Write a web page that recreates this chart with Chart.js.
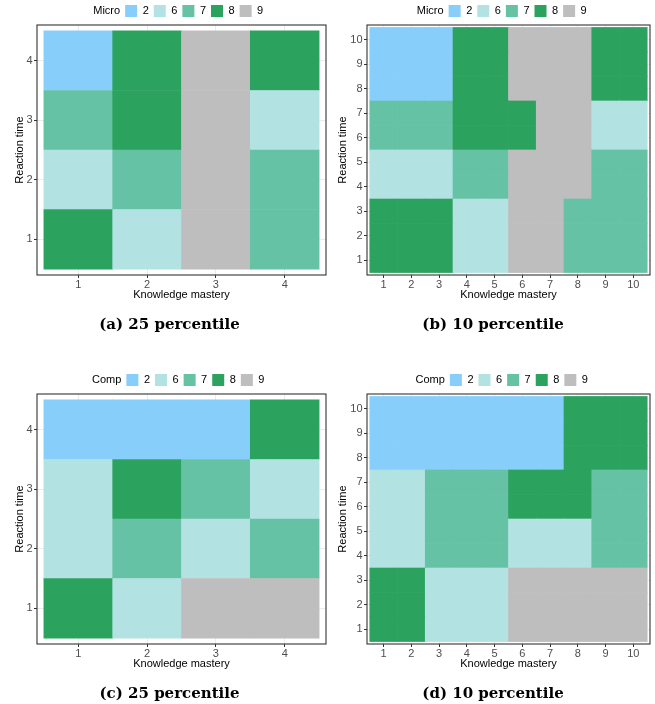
<!DOCTYPE html>
<html><head><meta charset="utf-8">
<script src="https://cdn.jsdelivr.net/npm/chart.js@4.4.1/dist/chart.umd.min.js"></script>
<style>
html,body{margin:0;padding:0;background:#fff;width:655px;height:704px;overflow:hidden;position:relative}
canvas{position:absolute}
</style></head><body>
<canvas id="ca" width="328" height="347" style="left:0px;top:0px"></canvas>
<canvas id="cb" width="327" height="347" style="left:328px;top:0px"></canvas>
<canvas id="cc" width="328" height="347" style="left:0px;top:369px"></canvas>
<canvas id="cd" width="327" height="347" style="left:328px;top:369px"></canvas>
<script>
// ---- data ----
const legendValues = [2, 6, 7, 8, 9];
const ticks4 = [1, 2, 3, 4];
const ticks10 = [1, 2, 3, 4, 5, 6, 7, 8, 9, 10];

// rows listed from Reaction time = 1 (bottom) upward; columns = Knowledge mastery 1..N
const microQ25 = [
  [8, 6, 9, 7],
  [6, 7, 9, 7],
  [7, 8, 9, 6],
  [2, 8, 9, 8]
];
const microQ10 = [
  [8, 8, 8, 6, 6, 9, 9, 7, 7, 7],
  [8, 8, 8, 6, 6, 9, 9, 7, 7, 7],
  [8, 8, 8, 6, 6, 9, 9, 7, 7, 7],
  [6, 6, 6, 7, 7, 9, 9, 9, 7, 7],
  [6, 6, 6, 7, 7, 9, 9, 9, 7, 7],
  [7, 7, 7, 8, 8, 8, 9, 9, 6, 6],
  [7, 7, 7, 8, 8, 8, 9, 9, 6, 6],
  [2, 2, 2, 8, 8, 9, 9, 9, 8, 8],
  [2, 2, 2, 8, 8, 9, 9, 9, 8, 8],
  [2, 2, 2, 8, 8, 9, 9, 9, 8, 8]
];
const compQ25 = [
  [8, 6, 9, 9],
  [6, 7, 6, 7],
  [6, 8, 7, 6],
  [2, 2, 2, 8]
];
const compQ10 = [
  [8, 8, 6, 6, 6, 9, 9, 9, 9, 9],
  [8, 8, 6, 6, 6, 9, 9, 9, 9, 9],
  [8, 8, 6, 6, 6, 9, 9, 9, 9, 9],
  [6, 6, 7, 7, 7, 6, 6, 6, 7, 7],
  [6, 6, 7, 7, 7, 6, 6, 6, 7, 7],
  [6, 6, 7, 7, 7, 8, 8, 8, 7, 7],
  [6, 6, 7, 7, 7, 8, 8, 8, 7, 7],
  [2, 2, 2, 2, 2, 2, 2, 8, 8, 8],
  [2, 2, 2, 2, 2, 2, 2, 8, 8, 8],
  [2, 2, 2, 2, 2, 2, 2, 8, 8, 8]
];

// ---- style ----
const colorOf = {2: '#87CEFA', 6: '#B3E2E3', 7: '#66C2A5', 8: '#2CA25F', 9: '#BEBEBE'};
const SANS = "'Liberation Sans', Arial, sans-serif";

const panelBorder = {
  id: 'panelBorder',
  afterDatasetsDraw(chart) {
    const {ctx, chartArea: a} = chart;
    ctx.save();
    ctx.strokeStyle = '#333333';
    ctx.lineWidth = 1.1;
    ctx.strokeRect(a.left, a.top, a.right - a.left, a.bottom - a.top);
    ctx.restore();
  }
};

function makeChart(canvasId, grid, ticks, legendTitle, caption, lay) {
  const n = ticks.length;
  const datasets = grid.map((row, r) => ({
    data: row.map((v, c) => ({x: ticks[c], y: [ticks[r] - 0.5, ticks[r] + 0.5]})),
    backgroundColor: row.map(v => colorOf[v]),
    borderWidth: 0,
    grouped: false,
    barPercentage: 1,
    categoryPercentage: 1
  }));
  const axisCommon = (title, isX) => ({
    type: 'linear',
    min: ticks[0] - 0.6,
    max: ticks[n - 1] + 0.6,
    offset: false,
    afterBuildTicks: s => { s.ticks = ticks.map(v => ({value: v})); },
    afterFit: s => { if (isX) s.height = lay.xAxisH; else s.width = lay.yAxisW; },
    grid: {color: '#EBEBEB', lineWidth: 1, tickColor: '#333333', tickLength: 3, offset: false, drawTicks: true},
    border: {display: false},
    ticks: {color: '#4D4D4D', font: {family: SANS, size: 11}, padding: isX ? 0 : 1.5, maxRotation: 0, autoSkip: false},
    title: {display: true, text: title, color: '#000000', font: {family: SANS, size: 11}, padding: 0}
  });
  return new Chart(document.getElementById(canvasId), {
    type: 'bar',
    data: {datasets},
    plugins: [panelBorder],
    options: {
      responsive: false,
      animation: false,
      devicePixelRatio: 1,
      layout: {padding: {left: lay.padL, right: lay.padR, top: 0, bottom: 0}},
      scales: {
        x: axisCommon('Knowledge mastery', true),
        y: axisCommon('Reaction time', false)
      },
      plugins: {
        tooltip: {enabled: false},
        legend: {
          display: true,
          position: 'top',
          maxHeight: 25,
          onClick: null,
          labels: {
            boxWidth: 12,
            boxHeight: 12,
            padding: 5,
            color: '#000000',
            font: {family: SANS, size: 11},
            generateLabels: () => [
              {text: legendTitle, fillStyle: 'rgba(0,0,0,0)', strokeStyle: 'rgba(0,0,0,0)', lineWidth: 0, hidden: false}
            ].concat(legendValues.map(v => ({
              text: String(v), fillStyle: colorOf[v], strokeStyle: colorOf[v], lineWidth: 0, hidden: false
            })))
          }
        },
        title: {
          display: true,
          position: 'bottom',
          text: caption,
          color: '#000000',
          font: {family: "'DejaVu Serif', serif", size: 15, weight: 'bold'},
          padding: {top: 14, bottom: 13}
        }
      }
    }
  });
}

const layLeft = {padL: 13, padR: 2, yAxisW: 24, xAxisH: 27};
const layRight = {padL: 8, padR: 5, yAxisW: 31, xAxisH: 27};

makeChart('ca', microQ25, ticks4, 'Micro', '(a) 25 percentile', layLeft);
makeChart('cb', microQ10, ticks10, 'Micro', '(b) 10 percentile', layRight);
makeChart('cc', compQ25, ticks4, 'Comp', '(c) 25 percentile', layLeft);
makeChart('cd', compQ10, ticks10, 'Comp', '(d) 10 percentile', layRight);
</script>
</body></html>
